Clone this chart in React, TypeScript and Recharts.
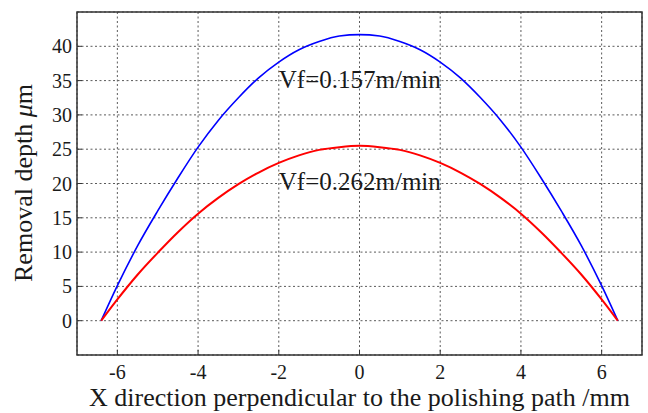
import React from 'react';
import { LineChart, Line, XAxis, YAxis, CartesianGrid, ReferenceArea, ReferenceDot, Label } from 'recharts';

// x positions across the polishing path (mm)
const xPos = [-6.4, -6, -5.5, -5, -4.5, -4, -3.5, -3, -2.5, -2, -1.5, -1, -0.5, 0, 0.5, 1, 1.5, 2, 2.5, 3, 3.5, 4, 4.5, 5, 5.5, 6, 6.4];
// removal depth (um) for Vf = 0.157 m/min
const depthSlow = [0, 5.1, 10.9, 16, 20.8, 25.3, 29.2, 32.5, 35.4, 37.7, 39.5, 40.7, 41.5, 41.7, 41.5, 40.7, 39.5, 37.7, 35.4, 32.5, 29.2, 25.3, 20.8, 16, 10.9, 5.1, 0];
// removal depth (um) for Vf = 0.262 m/min
const depthFast = [0, 3.1, 6.7, 9.9, 12.9, 15.6, 17.9, 19.9, 21.6, 23.0, 24.1, 24.9, 25.3, 25.5, 25.3, 24.9, 24.1, 23.0, 21.6, 19.9, 17.9, 15.6, 12.9, 9.9, 6.7, 3.1, 0];

const xTicks = [-6, -4, -2, 0, 2, 4, 6];
const yTicks = [0, 5, 10, 15, 20, 25, 30, 35, 40];

const data = xPos.map((x, i) => ({ x, slow: depthSlow[i], fast: depthFast[i] }));

const FONT = '"Liberation Serif", "Times New Roman", serif';
const INK = '#1a1a1a';

const note = (text: string) => (props: any) => {
  const vb = props.viewBox || {};
  return (
    <text x={vb.x + 1} y={vb.y + 1} fontFamily={FONT} fontSize={25} fill={INK}>
      {text}
    </text>
  );
};

const XTick = (props: any) => {
  const { x, y, payload } = props;
  return (
    <text x={x} y={y + 14} textAnchor="middle" fontFamily={FONT} fontSize={20} fill={INK}>
      {payload.value}
    </text>
  );
};

const YTick = (props: any) => {
  const { x, y, payload } = props;
  return (
    <text x={x} y={y + 7} textAnchor="end" fontFamily={FONT} fontSize={20} fill={INK}>
      {payload.value}
    </text>
  );
};

export default function App() {
  return (
    <div style={{ position: 'absolute', left: 0, top: 0, background: '#fff', fontFamily: FONT }}>
      <LineChart width={648} height={413} data={data} margin={{ top: 12, right: 6, bottom: 0, left: 0 }}>
        <CartesianGrid stroke="#5a5a5a" strokeDasharray="2 2.5" />
        <XAxis
          dataKey="x"
          type="number"
          domain={[-7, 7]}
          ticks={xTicks}
          height={58}
          axisLine={false}
          tickSize={-5}
          tickMargin={15}
          tickLine={{ stroke: '#333' }}
          tick={<XTick />}
        >
          <Label
            value="X direction perpendicular to the polishing path /mm"
            position="insideBottom"
            offset={7}
            style={{ fontFamily: FONT, fontSize: 26, fill: INK }}
          />
        </XAxis>
        <XAxis
          xAxisId="top"
          orientation="top"
          type="number"
          domain={[-7, 7]}
          ticks={xTicks}
          height={0}
          axisLine={false}
          tickSize={-5}
          tickLine={{ stroke: '#333' }}
          tickFormatter={() => ''}
        />
        <YAxis
          type="number"
          domain={[-5, 45]}
          ticks={yTicks}
          width={77}
          axisLine={false}
          tickSize={-5}
          tickMargin={10}
          tickLine={{ stroke: '#333' }}
          tick={<YTick />}
        >
          <Label
            content={() => (
              <text
                x={0}
                y={0}
                transform="translate(32, 183) rotate(-90)"
                textAnchor="middle"
                fontFamily={FONT}
                fontSize={26}
                fill={INK}
              >
                Removal depth <tspan fontStyle="italic">μ</tspan>m
              </text>
            )}
          />
        </YAxis>
        <YAxis
          yAxisId="right"
          orientation="right"
          type="number"
          domain={[-5, 45]}
          ticks={yTicks}
          width={0}
          axisLine={false}
          tickSize={-5}
          tickLine={{ stroke: '#333' }}
          tickFormatter={() => ''}
        />
        <ReferenceArea x1={-7} x2={7} y1={-5} y2={45} fill="none" stroke="#333" strokeWidth={1.5} ifOverflow="visible" />
        <Line type="monotone" dataKey="slow" stroke="#0000ff" strokeWidth={1.6} dot={false} isAnimationActive={false} />
        <Line type="monotone" dataKey="fast" stroke="#ff0000" strokeWidth={2} dot={false} isAnimationActive={false} />
        <ReferenceDot x={-2} y={33.9} r={1} fill="none" stroke="none" label={note('Vf=0.157m/min')} />
        <ReferenceDot x={-2} y={19.1} r={1} fill="none" stroke="none" label={note('Vf=0.262m/min')} />
      </LineChart>
    </div>
  );
}
